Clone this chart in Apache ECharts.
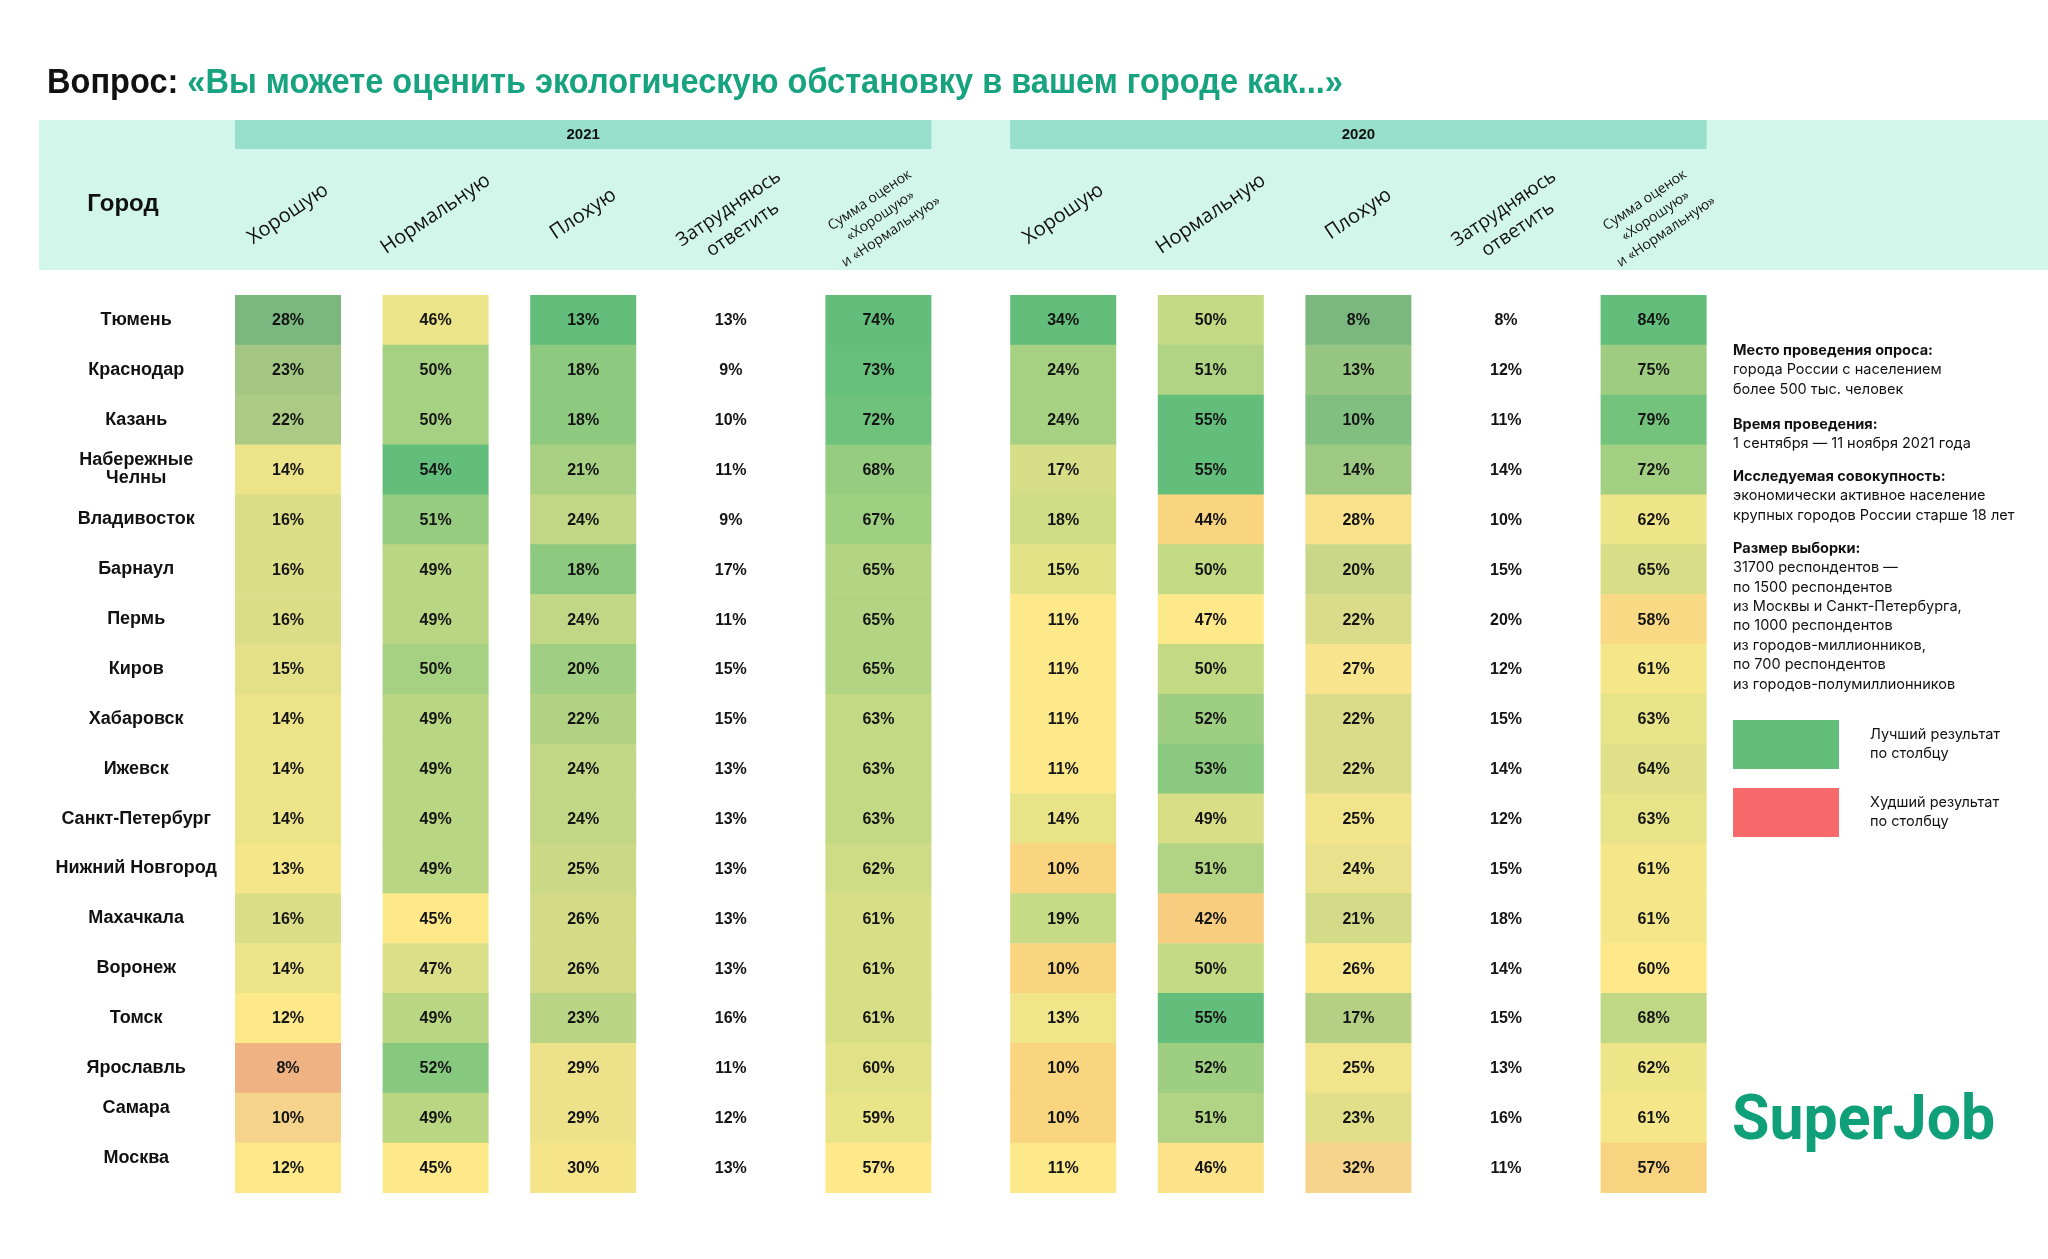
<!DOCTYPE html>
<html><head><meta charset="utf-8">
<script src="https://cdn.jsdelivr.net/npm/echarts@6/dist/echarts.min.js"></script>
<style>html,body{margin:0;padding:0;background:#fff}#c{width:2048px;height:1259px}</style>
</head><body><div id="c"></div>
<script>
// ---------------- DATA ----------------
const cities = ['Тюмень','Краснодар','Казань','Набережные\nЧелны','Владивосток','Барнаул','Пермь','Киров','Хабаровск','Ижевск','Санкт-Петербург','Нижний Новгород','Махачкала','Воронеж','Томск','Ярославль','Самара','Москва'];
const columnLabels = ['Хорошую','Нормальную','Плохую','Затрудняюсь\nответить','Сумма оценок\n«Хорошую»\nи «Нормальную»'];
const years = ['2021','2020'];

const good2021    = [28,23,22,14,16,16,16,15,14,14,14,13,16,14,12,8,10,12];
const normal2021  = [46,50,50,54,51,49,49,50,49,49,49,49,45,47,49,52,49,45];
const bad2021     = [13,18,18,21,24,18,24,20,22,24,24,25,26,26,23,29,29,30];
const unsure2021  = [13,9,10,11,9,17,11,15,15,13,13,13,13,13,16,11,12,13];
const sum2021     = [74,73,72,68,67,65,65,65,63,63,63,62,61,61,61,60,59,57];

const good2020    = [34,24,24,17,18,15,11,11,11,11,14,10,19,10,13,10,10,11];
const normal2020  = [50,51,55,55,44,50,47,50,52,53,49,51,42,50,55,52,51,46];
const bad2020     = [8,13,10,14,28,20,22,27,22,22,25,24,21,26,17,25,23,32];
const unsure2020  = [8,12,11,14,10,15,20,12,15,14,12,15,18,14,15,13,16,11];
const sum2020     = [84,75,79,72,62,65,58,61,63,64,63,61,61,60,68,62,61,57];

// ---------------- COLOUR SCALES (style) ----------------
const scales2021 = [
  [[8,'#EFB383'],[10,'#F5D38B'],[12,'#FDE98A'],[28,'#7AB87F']],
  [[45,'#FDE98A'],[54,'#63BE7B']],
  [[13,'#63BE7B'],[30,'#F6E48B']],
  null,
  [[57,'#FDE98A'],[73,'#66BF7B'],[74,'#63BE7B']]
];
const scales2020 = [
  [[10,'#F9D580'],[11,'#FDE98A'],[34,'#63BE7B']],
  [[42,'#F9CD7F'],[44,'#F9D580'],[46,'#FCE38A'],[47,'#FDE98A'],[55,'#63BE7B']],
  [[8,'#7AB87F'],[10,'#80BF80'],[26,'#F8E68C'],[28,'#F8E28C'],[32,'#F6D48C']],
  null,
  [[57,'#F9D480'],[58,'#FAD985'],[60,'#FDE98A'],[72,'#A2CF82'],[75,'#9ECD81'],[79,'#73C37D'],[84,'#63BE7B']]
];
function colorFor(v, stops){
  if (v <= stops[0][0]) return stops[0][1];
  for (let i = 1; i < stops.length; i++) {
    if (v <= stops[i][0]) {
      const t = (v - stops[i-1][0]) / (stops[i][0] - stops[i-1][0]);
      return echarts.color.lerp(t, [stops[i-1][1], stops[i][1]]);
    }
  }
  return stops[stops.length-1][1];
}

// ---------------- LAYOUT ----------------
const STEP = 147.6, GRID_LEFT = [214.2, 989.4], TOP = 295, HEIGHT = 897.5, CELL_RATIO = 106/147.6;
const FONT = '"Liberation Sans", Arial, sans-serif';
const HEAD_FONT = '"Open Sans", sans-serif';
const SIDE_FONT = 'Inter, "Noto Sans", sans-serif';
const raisedRows = [16, 17];

function makeSeries(gi, cols, scales){
  const data = [];
  cols.forEach((arr, c) => arr.forEach((v, r) => data.push([c, r, v])));
  return {
    type: 'custom', xAxisIndex: gi, yAxisIndex: gi, data, encode: {x: 0, y: 1},
    renderItem(params, api){
      const c = api.value(0), r = api.value(1), v = api.value(2);
      const p = api.coord([c, r]); const s = api.size([1, 1]);
      const w = s[0] * CELL_RATIO, h = s[1];
      const children = [];
      const sc = scales[c];
      if (sc) children.push({type: 'rect', shape: {x: p[0]-w/2, y: p[1]-h/2, width: w, height: h+0.6}, style: {fill: colorFor(v, sc)}});
      children.push({type: 'text', style: {text: v + '%', x: p[0], y: p[1] + 1, align: 'center', verticalAlign: 'middle', textAlign: 'center', textVerticalAlign: 'middle', font: 'bold 16px ' + FONT, fill: '#141414'}});
      return {type: 'group', children};
    }
  };
}

const graphics = [];
const C = {align: 'center', verticalAlign: 'middle', textAlign: 'center', textVerticalAlign: 'middle'};
// title
graphics.push({type: 'text', x: 47, y: 83, scaleX: 0.93, z: 3, style: {
  text: '{a|Вопрос:} {b|«Вы можете оценить экологическую обстановку в вашем городе как...»}',
  rich: {a: {font: 'bold 35px ' + FONT, fill: '#111'}, b: {font: 'bold 35px ' + FONT, fill: '#17A37F'}},
  font: 'bold 35px ' + FONT, verticalAlign: 'middle', textVerticalAlign: 'middle'}});
// header band
graphics.push({type: 'rect', shape: {x: 39, y: 120, width: 2009, height: 150}, style: {fill: '#D3F6EB'}, z: 0});
const ROT = 34*Math.PI/180;
years.forEach((y, gi) => {
  const x0 = GRID_LEFT[gi] + STEP*0.5 - 53;
  graphics.push({type: 'rect', shape: {x: x0, y: 120, width: STEP*4 + 106, height: 29}, style: {fill: '#98DFCB'}, z: 1});
  graphics.push({type: 'text', x: x0 + (STEP*4 + 106)/2, y: 135, z: 2, style: Object.assign({text: y, font: 'bold 15px ' + FONT, fill: '#111'}, C)});
  columnLabels.forEach((lab, i) => {
    const cx = GRID_LEFT[gi] + STEP*(i + 0.5);
    let font = '20px ', lh = 24, dx = 0, yy = 214;
    if (i === 3) { font = '19px '; lh = 25; dx = 5; yy = 219; }
    if (i === 4) { font = '14px '; lh = 19; dx = 2; yy = 216; }
    graphics.push({type: 'text', x: cx + dx, y: yy, rotation: ROT, z: 2,
      style: Object.assign({text: lab, font: font + HEAD_FONT, lineHeight: lh, fill: '#111'}, C)});
  });
});
graphics.push({type: 'text', x: 123, y: 204, z: 2, style: Object.assign({text: 'Город', font: 'bold 24px ' + FONT, fill: '#111'}, C)});

// side notes
const notes = [
  {top: 341, head: 'Место проведения опроса:', body: 'города России с населением\nболее 500 тыс. человек'},
  {top: 414.7, head: 'Время проведения:', body: '1 сентября — 11 ноября 2021 года'},
  {top: 467, head: 'Исследуемая совокупность:', body: 'экономически активное население\nкрупных городов России старше 18 лет'},
  {top: 538.7, head: 'Размер выборки:', body: '31700 респондентов —\nпо 1500 респондентов\nиз Москвы и Санкт-Петербурга,\nпо 1000 респондентов\nиз городов-миллионников,\nпо 700 респондентов\nиз городов-полумиллионников'}
];
notes.forEach(n => {
  graphics.push({type: 'text', x: 1733, y: n.top, style: {
    text: '{h|' + n.head + '}\n' + n.body.split('\n').map(l => '{r|' + l + '}').join('\n'),
    rich: {h: {font: 'bold 14.5px ' + SIDE_FONT, fill: '#111', lineHeight: 19.4}, r: {font: '14.5px ' + SIDE_FONT, fill: '#111', lineHeight: 19.4}},
    font: '14.5px ' + SIDE_FONT, fill: '#111', verticalAlign: 'top', textVerticalAlign: 'top'}});
});
graphics.push({type: 'rect', shape: {x: 1733, y: 720, width: 106, height: 49}, style: {fill: '#63BE7B'}});
graphics.push({type: 'rect', shape: {x: 1733, y: 788, width: 106, height: 49}, style: {fill: '#F8696B'}});
graphics.push({type: 'text', x: 1870, y: 725, style: {text: 'Лучший результат\nпо столбцу', font: '14.5px ' + SIDE_FONT, lineHeight: 19.4, fill: '#111', verticalAlign: 'top', textVerticalAlign: 'top'}});
graphics.push({type: 'text', x: 1870, y: 793, style: {text: 'Худший результат\nпо столбцу', font: '14.5px ' + SIDE_FONT, lineHeight: 19.4, fill: '#111', verticalAlign: 'top', textVerticalAlign: 'top'}});
graphics.push({type: 'text', x: 1732, y: 1123, scaleX: 0.965, style: {text: 'SuperJob', font: 'bold 63px Roboto, sans-serif', fill: '#0FA07A', verticalAlign: 'middle', textVerticalAlign: 'middle'}});

const chart = echarts.init(document.getElementById('c'), null, {renderer: 'canvas'});
const axisCommon = {axisLine: {show: false}, axisTick: {show: false}, splitLine: {show: false}};
chart.setOption({
  animation: false,
  backgroundColor: '#ffffff',
  grid: GRID_LEFT.map(l => ({left: l, top: TOP, width: STEP*5, height: HEIGHT, containLabel: false, outerBoundsMode: 'none'})),
  xAxis: [0, 1].map(gi => Object.assign({type: 'category', gridIndex: gi, data: columnLabels, axisLabel: {show: false}}, axisCommon)),
  yAxis: [0, 1].map(gi => Object.assign({type: 'category', gridIndex: gi, data: cities, inverse: true,
    axisLabel: gi === 0 ? {show: true, margin: 78, align: 'center', fontSize: 18, fontWeight: 'bold', color: '#111', fontFamily: FONT, lineHeight: 18,
      formatter: (v, idx) => raisedRows.includes(idx) ? '{up|' + v + '}' : v,
      rich: {up: {fontSize: 18, fontWeight: 'bold', color: '#111', fontFamily: FONT, padding: [0, 0, 20, 0]}}} : {show: false}}, axisCommon)),
  series: [
    makeSeries(0, [good2021, normal2021, bad2021, unsure2021, sum2021], scales2021),
    makeSeries(1, [good2020, normal2020, bad2020, unsure2020, sum2020], scales2020)
  ],
  graphic: {elements: graphics}
});
</script>
</body></html>
